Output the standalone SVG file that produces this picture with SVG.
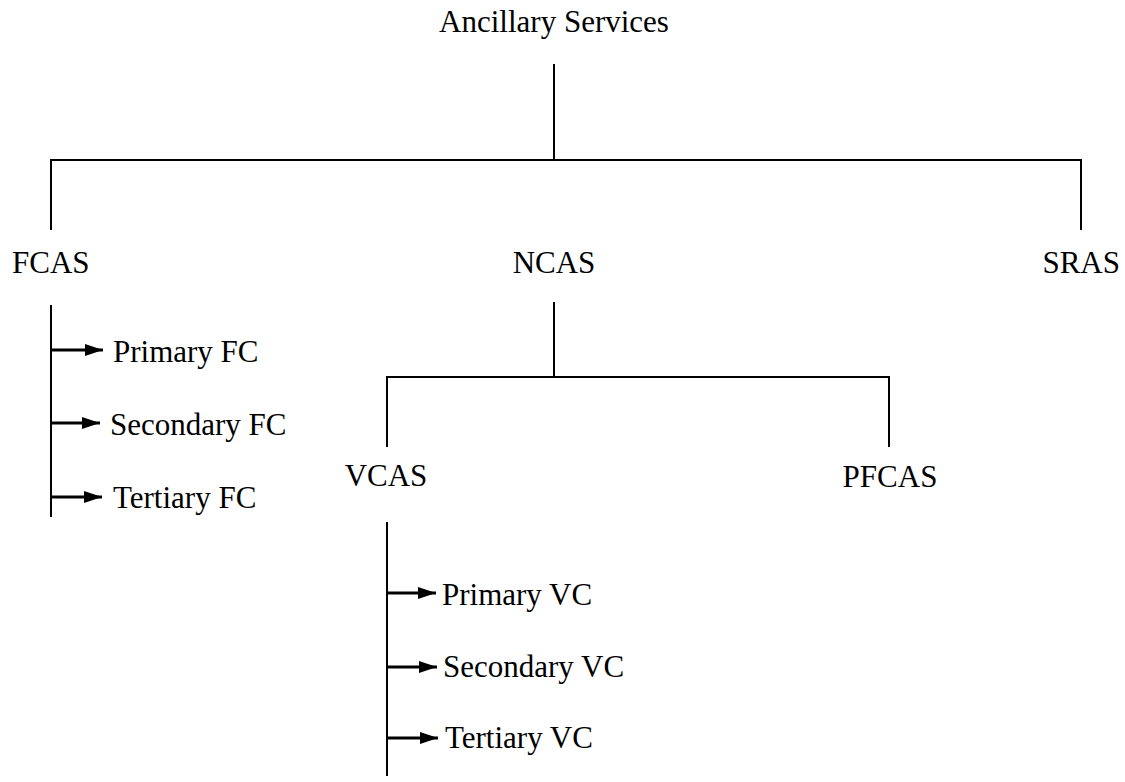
<svg xmlns="http://www.w3.org/2000/svg" width="1125" height="782" viewBox="0 0 1125 782">
<defs>
<marker id="arr" viewBox="0 0 18 12" refX="18" refY="6" markerWidth="18" markerHeight="12" orient="auto" markerUnits="userSpaceOnUse">
<path d="M0,0 L18,6 L0,12 Z" fill="#000"/>
</marker>
<style>
text{font-family:"Liberation Serif","Times New Roman",serif;font-size:31px;fill:#000}
.t{stroke:#000;stroke-width:2;fill:none}
.a{stroke:#000;stroke-width:3;fill:none;marker-end:url(#arr)}
</style>
</defs>
<rect width="1125" height="782" fill="#fff"/>
<g id="connectors">
<line class="t" x1="554" y1="64" x2="554" y2="160"/>
<polyline class="t" points="51,230 51,160 1081,160 1081,230"/>
<line class="t" x1="554" y1="302" x2="554" y2="377"/>
<polyline class="t" points="387,447 387,377 889,377 889,447"/>
<line class="t" x1="51" y1="305" x2="51" y2="517"/>
<line class="a" x1="51" y1="350" x2="103" y2="350"/>
<line class="a" x1="51" y1="423" x2="100" y2="423"/>
<line class="a" x1="51" y1="497" x2="102" y2="497"/>
<line class="t" x1="387" y1="522" x2="387" y2="776"/>
<line class="a" x1="387" y1="593" x2="436" y2="593"/>
<line class="a" x1="387" y1="667" x2="437" y2="667"/>
<line class="a" x1="387" y1="738" x2="438" y2="738"/>
</g>
<g id="root"><text x="554" y="32" text-anchor="middle">Ancillary Services</text></g>
<g id="fcas"><text x="12" y="273">FCAS</text></g>
<g id="ncas"><text x="554" y="273" text-anchor="middle">NCAS</text></g>
<g id="sras"><text x="1120" y="273" text-anchor="end">SRAS</text></g>
<g id="vcas"><text x="386" y="486" text-anchor="middle">VCAS</text></g>
<g id="pfcas"><text x="890" y="487" text-anchor="middle">PFCAS</text></g>
<g id="primary-fc"><text x="113" y="362">Primary FC</text></g>
<g id="secondary-fc"><text x="110" y="435">Secondary FC</text></g>
<g id="tertiary-fc"><text x="113" y="508">Tertiary FC</text></g>
<g id="primary-vc"><text x="442" y="605">Primary VC</text></g>
<g id="secondary-vc"><text x="443" y="677">Secondary VC</text></g>
<g id="tertiary-vc"><text x="445" y="748">Tertiary VC</text></g>
</svg>
